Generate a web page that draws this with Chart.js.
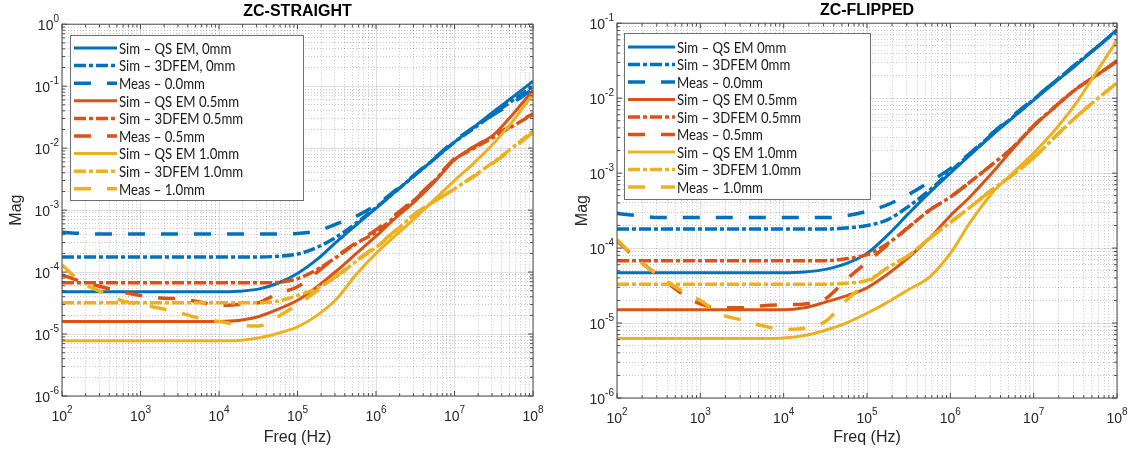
<!DOCTYPE html>
<html>
<head>
<meta charset="utf-8">
<title>ZC-STRAIGHT / ZC-FLIPPED</title>
<script src="https://cdn.jsdelivr.net/npm/chart.js@4.4.1/dist/chart.umd.min.js"></script>
<style>
  html, body { margin: 0; padding: 0; background: #fff; }
  #wrap { position: relative; width: 1130px; height: 450px; }
  .panel { position: absolute; top: 0; width: 565px; height: 450px; }
</style>
</head>
<body>
<div id="wrap">
  <div class="panel" style="left:0"><canvas id="straightChart"></canvas></div>
  <div class="panel" style="left:565px"><canvas id="flippedChart"></canvas></div>
</div>
<script>
// frequency points (Hz), quarter-decade steps
const freq = [1e2, 1.778e2, 3.162e2, 5.623e2, 1e3, 1.778e3, 3.162e3, 5.623e3, 1e4, 1.778e4, 3.162e4, 5.623e4,
              1e5, 1.778e5, 3.162e5, 5.623e5, 1e6, 1.778e6, 3.162e6, 5.623e6, 1e7, 1.778e7, 3.162e7, 5.623e7, 1e8];

// decade exponents used for the tick labels
const xExponents = [2, 3, 4, 5, 6, 7, 8];
const yExponentsStraight = [-6, -5, -4, -3, -2, -1, 0];
const yExponentsFlipped = [-6, -5, -4, -3, -2, -1];

const namesStraight = ["Sim – QS EM, 0mm", "Sim – 3DFEM, 0mm", "Meas – 0.0mm",
                       "Sim – QS EM 0.5mm", "Sim – 3DFEM 0.5mm", "Meas – 0.5mm",
                       "Sim – QS EM 1.0mm", "Sim – 3DFEM 1.0mm", "Meas – 1.0mm"];
const namesFlipped = ["Sim – QS EM 0mm", "Sim – 3DFEM 0mm", "Meas – 0.0mm",
                      "Sim – QS EM 0.5mm", "Sim – 3DFEM 0.5mm", "Meas – 0.5mm",
                      "Sim – QS EM 1.0mm", "Sim – 3DFEM 1.0mm", "Meas – 1.0mm"];

// ZC-STRAIGHT
const straightQsEm0 = [4.8e-5, 4.8e-5, 4.8e-5, 4.8e-5, 4.8e-5, 4.8e-5, 4.8e-5, 4.8e-5, 4.8e-5, 4.9e-5, 5.3e-5, 6.6e-5,
                       9.5e-5, 1.6e-4, 3.1e-4, 5.8e-4, 1.07e-3, 2.0e-3, 3.7e-3, 6.8e-3, 1.25e-2, 2.2e-2, 3.9e-2, 6.8e-2, 1.2e-1];
const straight3dfem0 = [1.75e-4, 1.75e-4, 1.75e-4, 1.75e-4, 1.75e-4, 1.75e-4, 1.75e-4, 1.75e-4, 1.75e-4, 1.75e-4, 1.75e-4, 1.8e-4,
                        1.95e-4, 2.5e-4, 3.7e-4, 6.2e-4, 1.1e-3, 2.0e-3, 3.7e-3, 6.8e-3, 1.25e-2, 2.1e-2, 3.6e-2, 6.0e-2, 1.0e-1];
const straightMeas0 = [4.4e-4, 4.2e-4, 4.1e-4, 4.1e-4, 4.1e-4, 4.1e-4, 4.1e-4, 4.1e-4, 4.1e-4, 4.1e-4, 4.1e-4, 4.1e-4,
                       4.2e-4, 4.6e-4, 6.0e-4, 8.0e-4, 1.2e-3, 2.1e-3, 3.8e-3, 7.0e-3, 1.3e-2, 2.2e-2, 3.5e-2, 5.5e-2, 9.0e-2];
const straightQsEm05 = [1.6e-5, 1.6e-5, 1.6e-5, 1.6e-5, 1.6e-5, 1.6e-5, 1.6e-5, 1.6e-5, 1.6e-5, 1.65e-5, 1.9e-5, 2.5e-5,
                        3.5e-5, 5.8e-5, 1.05e-4, 2.0e-4, 3.8e-4, 7.5e-4, 1.4e-3, 2.9e-3, 6.5e-3, 1.05e-2, 1.65e-2, 3.6e-2, 8.5e-2];
const straight3dfem05 = [6.7e-5, 6.7e-5, 6.7e-5, 6.7e-5, 6.7e-5, 6.7e-5, 6.7e-5, 6.7e-5, 6.7e-5, 6.7e-5, 6.7e-5, 6.8e-5,
                         7.8e-5, 1.1e-4, 1.75e-4, 2.9e-4, 4.4e-4, 8.0e-4, 1.5e-3, 3.0e-3, 6.5e-3, 1.0e-2, 1.5e-2, 2.3e-2, 3.5e-2];
const straightMeas05 = [9.0e-5, 7.0e-5, 5.8e-5, 4.8e-5, 4.2e-5, 3.8e-5, 3.7e-5, 3.3e-5, 2.9e-5, 3.0e-5, 3.2e-5, 4.5e-5,
                        5.8e-5, 1.0e-4, 1.8e-4, 3.0e-4, 4.8e-4, 8.5e-4, 1.55e-3, 3.1e-3, 6.8e-3, 1.05e-2, 1.6e-2, 2.4e-2, 3.6e-2];
const straightQsEm10 = [7.8e-6, 7.8e-6, 7.8e-6, 7.8e-6, 7.8e-6, 7.8e-6, 7.8e-6, 7.8e-6, 7.8e-6, 7.9e-6, 8.6e-6, 1.03e-5,
                        1.3e-5, 2.0e-5, 3.7e-5, 9.2e-5, 2.0e-4, 3.9e-4, 7.5e-4, 1.5e-3, 3.0e-3, 5.8e-3, 1.2e-2, 2.8e-2, 7.5e-2];
const straight3dfem10 = [3.2e-5, 3.2e-5, 3.2e-5, 3.2e-5, 3.2e-5, 3.2e-5, 3.2e-5, 3.2e-5, 3.2e-5, 3.2e-5, 3.2e-5, 3.4e-5,
                         4.2e-5, 5.5e-5, 8.5e-5, 1.5e-4, 2.5e-4, 4.6e-4, 8.7e-4, 1.4e-3, 2.2e-3, 3.6e-3, 6.0e-3, 1.05e-2, 1.9e-2];
const straightMeas10 = [1.3e-4, 6.8e-5, 4.8e-5, 3.5e-5, 3.0e-5, 2.6e-5, 2.2e-5, 1.8e-5, 1.6e-5, 1.4e-5, 1.35e-5, 1.9e-5,
                        3.0e-5, 5.0e-5, 8.8e-5, 1.55e-4, 2.6e-4, 4.7e-4, 8.8e-4, 1.4e-3, 2.2e-3, 3.5e-3, 5.8e-3, 1.0e-2, 1.8e-2];

// ZC-FLIPPED
const flippedQsEm0 = [4.7e-5, 4.7e-5, 4.7e-5, 4.7e-5, 4.7e-5, 4.7e-5, 4.7e-5, 4.7e-5, 4.7e-5, 4.8e-5, 5.2e-5, 6.2e-5,
                      8.5e-5, 1.5e-4, 2.9e-4, 5.5e-4, 1.0e-3, 1.8e-3, 3.2e-3, 5.5e-3, 9.4e-3, 1.6e-2, 2.7e-2, 4.7e-2, 8.2e-2];
const flipped3dfem0 = [1.8e-4, 1.8e-4, 1.8e-4, 1.8e-4, 1.8e-4, 1.8e-4, 1.8e-4, 1.8e-4, 1.8e-4, 1.8e-4, 1.8e-4, 1.85e-4,
                       2.0e-4, 2.4e-4, 3.6e-4, 5.9e-4, 1.05e-3, 1.85e-3, 3.3e-3, 5.6e-3, 9.6e-3, 1.65e-2, 2.8e-2, 4.7e-2, 8.0e-2];
const flippedMeas0 = [2.9e-4, 2.7e-4, 2.55e-4, 2.55e-4, 2.55e-4, 2.55e-4, 2.55e-4, 2.55e-4, 2.55e-4, 2.55e-4, 2.55e-4, 2.7e-4,
                      3.1e-4, 3.8e-4, 5.2e-4, 7.6e-4, 1.15e-3, 1.9e-3, 3.4e-3, 5.8e-3, 9.8e-3, 1.65e-2, 2.8e-2, 4.7e-2, 8.0e-2];
const flippedQsEm05 = [1.5e-5, 1.5e-5, 1.5e-5, 1.5e-5, 1.5e-5, 1.5e-5, 1.5e-5, 1.5e-5, 1.5e-5, 1.6e-5, 1.9e-5, 2.3e-5,
                       2.95e-5, 4.5e-5, 7.5e-5, 1.35e-4, 2.7e-4, 5.0e-4, 1.0e-3, 2.1e-3, 4.2e-3, 7.5e-3, 1.3e-2, 2.0e-2, 3.2e-2];
const flipped3dfem05 = [6.8e-5, 6.8e-5, 6.8e-5, 6.8e-5, 6.8e-5, 6.8e-5, 6.8e-5, 6.8e-5, 6.8e-5, 6.8e-5, 6.8e-5, 7.2e-5,
                        8.2e-5, 1.15e-4, 1.9e-4, 3.2e-4, 4.8e-4, 7.8e-4, 1.3e-3, 2.2e-3, 4.3e-3, 7.6e-3, 1.3e-2, 2.0e-2, 3.1e-2];
const flippedMeas05 = [1.25e-4, 7.0e-5, 4.3e-5, 2.6e-5, 1.8e-5, 1.6e-5, 1.6e-5, 1.7e-5, 1.75e-5, 1.8e-5, 2.1e-5, 3.8e-5,
                       6.5e-5, 1.1e-4, 1.9e-4, 3.2e-4, 4.8e-4, 7.8e-4, 1.3e-3, 2.2e-3, 4.3e-3, 7.6e-3, 1.3e-2, 2.0e-2, 3.1e-2];
const flippedQsEm10 = [6.2e-6, 6.2e-6, 6.2e-6, 6.2e-6, 6.2e-6, 6.2e-6, 6.2e-6, 6.2e-6, 6.3e-6, 6.8e-6, 8.0e-6, 1.0e-5,
                       1.35e-5, 1.9e-5, 2.8e-5, 4.1e-5, 8.5e-5, 2.3e-4, 5.4e-4, 1.0e-3, 1.85e-3, 3.7e-3, 8.3e-3, 2.2e-2, 5.9e-2];
const flipped3dfem10 = [3.3e-5, 3.3e-5, 3.3e-5, 3.3e-5, 3.3e-5, 3.3e-5, 3.3e-5, 3.3e-5, 3.3e-5, 3.3e-5, 3.3e-5, 3.4e-5,
                        3.7e-5, 5.5e-5, 8.0e-5, 1.35e-4, 2.2e-4, 3.6e-4, 6.0e-4, 9.5e-4, 1.6e-3, 3.0e-3, 5.5e-3, 9.5e-3, 1.6e-2];
const flippedMeas10 = [1.3e-4, 7.0e-5, 4.3e-5, 2.8e-5, 2.0e-5, 1.3e-5, 1.1e-5, 9.2e-6, 8.2e-6, 8.5e-6, 1.05e-5, 2.0e-5,
                       3.4e-5, 5.5e-5, 8.0e-5, 1.35e-4, 2.2e-4, 3.6e-4, 6.0e-4, 9.5e-4, 1.6e-3, 3.0e-3, 5.5e-3, 9.5e-3, 1.6e-2];

const LINE_COLORS = ['#0072BD', '#D95319', '#EDB120'];
const LINE_DASH = [[], [12, 3, 4, 3], [17, 16]];   // solid, dash-dot, dashed
const LINE_WIDTH = [3, 3.5, 3.5];
const AXIS_FONT = '"Liberation Sans", Arial, sans-serif';
const LEGEND_FONT = 'Lato, "Liberation Sans", sans-serif';

function makeDatasets(seriesList, names) {
    return seriesList.map((vals, i) => ({
        label: names[i],
        data: freq.map((f, k) => ({ x: f, y: vals[k] })),
        borderColor: LINE_COLORS[Math.floor(i / 3)],
        borderDash: LINE_DASH[i % 3],
        borderWidth: LINE_WIDTH[i % 3],
        pointRadius: 0,
        cubicInterpolationMode: 'monotone',
        fill: false,
        order: seriesList.length - i   // later series drawn on top, like matlab
    }));
}

// decades plus 2..9 minor ticks
function logTicks(exps) {
    const ticks = [];
    const lo = exps[0], hi = exps[exps.length - 1];
    for (let e = lo; e <= hi; e++) {
        const base = Math.pow(10, e);
        ticks.push({ value: base, major: true, exp: e });
        if (e < hi) {
            for (let m = 2; m < 10; m++) ticks.push({ value: m * base, major: false });
        }
    }
    return ticks;
}

function drawPower(ctx, exp, x, y, align) {
    ctx.font = '14px ' + AXIS_FONT;
    const w1 = ctx.measureText('10').width;
    ctx.font = '10px ' + AXIS_FONT;
    const s = String(exp);
    const w2 = ctx.measureText(s).width;
    const x0 = align === 'center' ? x - (w1 + w2) / 2 : x - (w1 + w2);
    ctx.font = '14px ' + AXIS_FONT;
    ctx.fillText('10', x0, y);
    ctx.font = '10px ' + AXIS_FONT;
    ctx.fillText(s, x0 + w1, y - 8);
}

// box, inward ticks, power-of-ten labels and the boxed legend
const matlabAxes = {
    id: 'matlabAxes',
    afterDraw(chart, args, opts) {
        const { ctx, chartArea: a, scales } = chart;
        const xs = scales.x, ys = scales.y;
        ctx.save();
        ctx.strokeStyle = '#4d4d4d';
        ctx.lineWidth = 1;
        ctx.setLineDash([]);
        ctx.strokeRect(a.left, a.top, a.right - a.left, a.bottom - a.top);
        ctx.beginPath();
        xs.ticks.forEach(t => {
            const px = xs.getPixelForValue(t.value), len = t.major ? 5 : 3;
            ctx.moveTo(px, a.bottom); ctx.lineTo(px, a.bottom - len);
            ctx.moveTo(px, a.top); ctx.lineTo(px, a.top + len);
        });
        ys.ticks.forEach(t => {
            const py = ys.getPixelForValue(t.value), len = t.major ? 5 : 3;
            ctx.moveTo(a.left, py); ctx.lineTo(a.left + len, py);
            ctx.moveTo(a.right, py); ctx.lineTo(a.right - len, py);
        });
        ctx.stroke();

        ctx.fillStyle = '#262626';
        ctx.textAlign = 'left';
        ctx.textBaseline = 'alphabetic';
        xs.ticks.filter(t => t.major).forEach(t => {
            drawPower(ctx, t.exp, xs.getPixelForValue(t.value), a.bottom + 25, 'center');
        });
        ys.ticks.filter(t => t.major).forEach(t => {
            drawPower(ctx, t.exp, a.left - 3, ys.getPixelForValue(t.value) + 6, 'right');
        });

        const lg = opts.legend;
        ctx.fillStyle = '#fff';
        ctx.fillRect(lg.x, lg.y, lg.w, lg.h);
        ctx.strokeStyle = '#6e6e6e';
        ctx.strokeRect(lg.x + 0.5, lg.y + 0.5, lg.w, lg.h);
        ctx.font = '15px ' + LEGEND_FONT;
        ctx.textBaseline = 'middle';
        chart.data.datasets.forEach((ds, i) => {
            const y = lg.row0 + i * lg.rowGap;
            ctx.setLineDash(ds.borderDash);
            ctx.strokeStyle = ds.borderColor;
            ctx.lineWidth = ds.borderWidth;
            ctx.beginPath();
            ctx.moveTo(lg.x0, y);
            ctx.lineTo(lg.x1, y);
            ctx.stroke();
            ctx.setLineDash([]);
            ctx.fillStyle = '#1a1a1a';
            // the original legend font is narrower, squeeze the text a bit
            const w = ctx.measureText(ds.label).width;
            ctx.fillText(ds.label, lg.textX, y + 1, w * 0.88);
        });
        ctx.restore();
    }
};

function buildChart(canvasId, series, names, yExps, cfg) {
    const yMin = Math.pow(10, yExps[0]);
    const yMax = Math.pow(10, yExps[yExps.length - 1]);
    return new Chart(document.getElementById(canvasId), {
        type: 'line',
        data: { datasets: makeDatasets(series, names) },
        plugins: [matlabAxes],
        options: {
            responsive: true,
            maintainAspectRatio: false,
            animation: false,
            events: [],
            layout: { padding: { left: cfg.padLeft, right: cfg.padRight, top: 0, bottom: 0 } },
            plugins: {
                legend: { display: false },
                tooltip: { enabled: false },
                title: {
                    display: true,
                    text: cfg.title,
                    fullSize: false,
                    color: '#000',
                    font: { family: AXIS_FONT, size: 16, weight: 'bold' },
                    padding: { top: cfg.titleTop, bottom: 3 }
                },
                matlabAxes: { legend: cfg.legend }
            },
            scales: {
                x: {
                    type: 'logarithmic',
                    min: 1e2,
                    max: 1e8,
                    afterBuildTicks: s => { s.ticks = logTicks(xExponents); },
                    afterFit: s => { s.height = cfg.xHeight; },
                    ticks: { display: false, autoSkip: false },
                    grid: {
                        drawTicks: false,
                        color: c => (c.tick && c.tick.major) ? 'rgba(0,0,0,0.12)' : 'rgba(0,0,0,0.22)'
                    },
                    border: { display: false, dash: c => (c.tick && !c.tick.major) ? [1, 2] : [] },
                    title: {
                        display: true,
                        text: 'Freq (Hz)',
                        color: '#262626',
                        font: { family: AXIS_FONT, size: 16 },
                        padding: { top: 0, bottom: 3 }
                    }
                },
                y: {
                    type: 'logarithmic',
                    min: yMin,
                    max: yMax,
                    afterBuildTicks: s => { s.ticks = logTicks(yExps); },
                    afterFit: s => { s.width = cfg.yWidth; },
                    ticks: { display: false, autoSkip: false },
                    grid: {
                        drawTicks: false,
                        color: c => (c.tick && c.tick.major) ? 'rgba(0,0,0,0.12)' : 'rgba(0,0,0,0.22)'
                    },
                    border: { display: false, dash: c => (c.tick && !c.tick.major) ? [1, 2] : [] },
                    title: {
                        display: true,
                        text: 'Mag',
                        color: '#262626',
                        font: { family: AXIS_FONT, size: 16 },
                        padding: { top: 0, bottom: 0 }
                    }
                }
            }
        }
    });
}

buildChart('straightChart',
    [straightQsEm0, straight3dfem0, straightMeas0, straightQsEm05, straight3dfem05, straightMeas05,
     straightQsEm10, straight3dfem10, straightMeas10],
    namesStraight, yExponentsStraight,
    { title: 'ZC-STRAIGHT', padLeft: 7, padRight: 32, yWidth: 55, xHeight: 54, titleTop: 2,
      legend: { x: 70, y: 35, w: 233, h: 165, row0: 48, rowGap: 17.6, x0: 74, x1: 117, textX: 119 } });

buildChart('flippedChart',
    [flippedQsEm0, flipped3dfem0, flippedMeas0, flippedQsEm05, flipped3dfem05, flippedMeas05,
     flippedQsEm10, flipped3dfem10, flippedMeas10],
    namesFlipped, yExponentsFlipped,
    { title: 'ZC-FLIPPED', padLeft: 8, padRight: 13, yWidth: 44, xHeight: 52, titleTop: 1,
      legend: { x: 59, y: 33, w: 246, h: 166, row0: 47, rowGap: 17.5, x0: 63, x1: 110, textX: 112 } });
</script>
</body>
</html>
